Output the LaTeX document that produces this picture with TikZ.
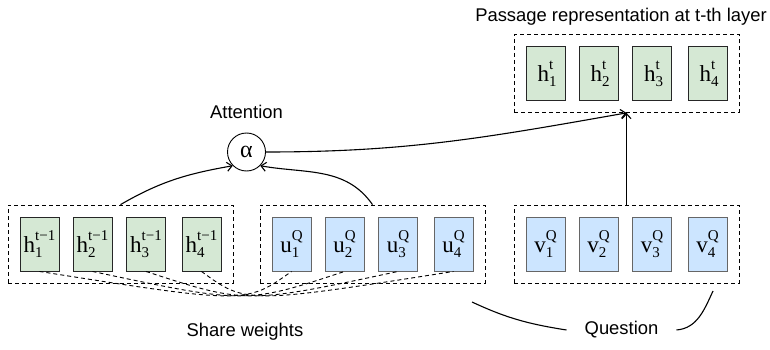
\documentclass[tikz,border=0pt]{standalone}
\usepackage{fontspec}
\setmainfont{Liberation Sans}
\newfontfamily\cellfont{Liberation Serif}
\usetikzlibrary{arrows.meta, positioning, fit}
\usepackage{xcolor}
\definecolor{prevGreen}{HTML}{D5E8D4}
\definecolor{queryBlue}{HTML}{CCE5FF}
\colorlet{prevEdge}{black!85}
\colorlet{queryEdge}{black!60}
\tikzset{
    cell/.style={minimum width=39pt, minimum height=54pt, inner sep=0pt, font=\cellfont\fontsize{23}{26}\selectfont},
    prevcell/.style={cell, fill=prevGreen, draw=prevEdge, line width=0.9pt},
    querycell/.style={cell, fill=queryBlue, draw=queryEdge, line width=0.9pt},
    group/.style={draw, dash pattern=on 4pt off 3pt, line width=0.9pt, inner sep=11.5pt},
    shared/.style={draw, dash pattern=on 4pt off 3pt, line width=0.9pt},
    flow/.style={-{Straight Barb[length=5pt,width=9pt]}, line width=1.1pt},
    brace/.style={line width=1.1pt},
    caption/.style={font=\fontsize{18.4}{22}\selectfont}
}
\newcommand\cellsym[3]{#1\rlap{\raisebox{-0.2em}{\fontsize{15}{15}\selectfont #3}}\raisebox{0.55em}{\fontsize{15}{15}\selectfont #2}}

\begin{document}
\begin{tikzpicture}[x=1pt, y=1pt]
    \useasboundingbox (0,0) rectangle (770,-350);

    % Cells of the four rows
    \foreach \i/\dx in {1/0, 2/53, 3/106.5, 4/162} {
        \node[prevcell] (h\i) at (39.5+\dx,-244) {\cellsym{h}{t−1}{\i}};
        \node[querycell] (u\i) at (291.5+\dx,-244) {\cellsym{u}{Q}{\i}};
        \node[querycell] (v\i) at (545.5+\dx,-244) {\cellsym{v}{Q}{\i}};
        \node[prevcell] (ht\i) at (545.5+\dx,-73.5) {\cellsym{h}{t}{\i}};
    }

    % Dashed frames round each row
    \node[group, fit=(h1)(h4)] (hprev) {};
    \node[group, fit=(u1)(u4)] (uq) {};
    \node[group, fit=(v1)(v4)] (vq) {};
    \node[group, fit=(ht1)(ht4)] (hcur) {};

    % Attention node and captions
    \node[draw, circle, minimum size=38pt, inner sep=0pt, line width=0.9pt,
          font=\cellfont\fontsize{24}{26}\selectfont] (alpha) at (246.5,-152) {α};
    \node[caption, above=10pt of alpha] (attn) {Attention};
    \node[caption] (title) at (621,-17) {Passage representation at t-th layer};
    \node[caption] (share) at (245,-332) {Share weights};
    \node[caption, inner xsep=18pt] (question) at (621.5,-330) {Question};

    % Flow into and out of the attention
    \draw[flow] (hprev.north) to[out=30, in=190] (alpha.south west);
    \draw[flow] (uq.north) to[out=125, in=-10] (alpha.south east);
    \draw[flow] (alpha.east) to[out=0, in=190] (hcur.south);
    \draw[flow] (vq.north) -- (hcur.south);

    % Shared weights between passage and question cells
    \coordinate (tie) at (246,-304);
    \foreach \i in {1,...,4}
        \draw[shared] (h\i.south) .. controls (tie) .. (u\i.south);

    % Question marks both question rows
    \coordinate (qu) at (472,-302);
    \coordinate (qv) at (713,-291);
    \draw[brace] (qu) to[out=-25, in=171] (question.west);
    \draw[brace] (question.east) to[out=5, in=245] (qv);
\end{tikzpicture}
\end{document}
